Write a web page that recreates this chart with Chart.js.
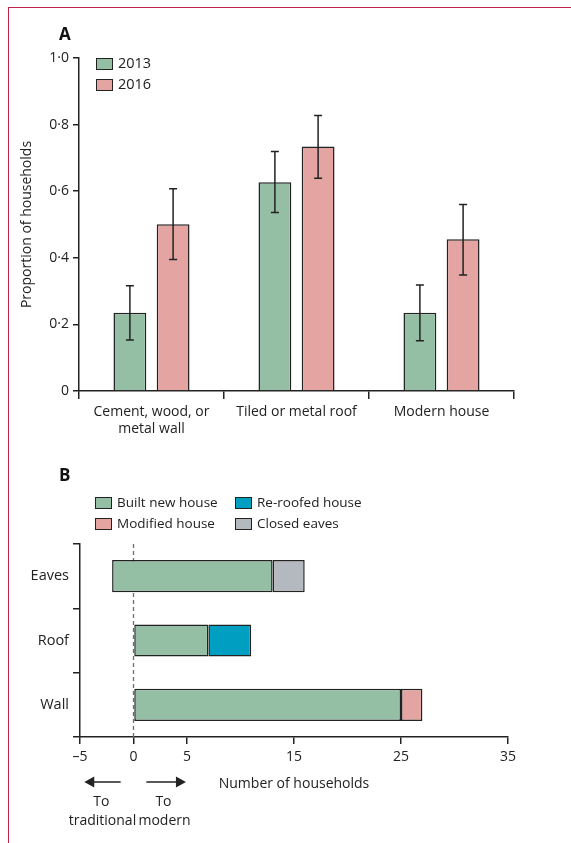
<!DOCTYPE html>
<html>
<head>
<meta charset="utf-8">
<script src="https://cdn.jsdelivr.net/npm/chart.js@4.4.1/dist/chart.umd.min.js"></script>
<style>
    body { margin: 0; background: #fff; font-family: "Open Sans", sans-serif; }
    #page { position: relative; width: 571px; height: 843px; overflow: hidden; }
    #frame { position: absolute; left: 8px; top: 7px; right: -2px; bottom: -2px;
             border-left: 1.5px solid #c0244a; border-top: 1.5px solid #c0244a; }
    .panel { position: absolute; left: 0; width: 571px; }
    .letter { position: absolute; font-weight: bold; font-size: 17px; color: #111; }
    .legend { position: absolute; color: #222; }
    .legend div { position: absolute; white-space: nowrap; line-height: 14px; }
    .legend span { position: absolute; left: 0; top: 1px; width: 15px; height: 10px; border: 1.5px solid #222; }
    .legend b { font-weight: normal; position: absolute; left: 22px; top: -1px; }
</style>
</head>
<body>
<div id="page">
    <div id="frame"></div>
    <div class="panel" style="top:0;height:440px"><canvas id="chart-a"></canvas></div>
    <div class="panel" style="top:440px;height:403px"><canvas id="chart-b"></canvas></div>
    <div class="letter" style="left:59px;top:22px">A</div>
    <div class="letter" style="left:59px;top:463px">B</div>
    <div class="legend" id="legend-a" style="left:96px;top:57px;font-size:14.5px"></div>
    <div class="legend" id="legend-b" style="left:95px;top:496px;font-size:13.5px"></div>
</div>
<script>
// panel A
const houseCategories = [["Cement, wood, or", "metal wall"], "Tiled or metal roof", "Modern house"];
const years = ["2013", "2016"];
const proportion2013 = [0.235, 0.627, 0.235];
const lower2013 = [0.153, 0.536, 0.151];
const upper2013 = [0.316, 0.719, 0.318];
const proportion2016 = [0.501, 0.734, 0.456];
const lower2016 = [0.395, 0.639, 0.348];
const upper2016 = [0.607, 0.827, 0.560];
const proportionTicks = [0, 0.2, 0.4, 0.6, 0.8, 1.0];

// panel B
const changeCategories = ["Eaves", "Roof", "Wall"];
const builtNewHouse = [[-2, 13], [0, 7], [0, 25]];
const reroofedHouse = [null, [7, 11], null];
const modifiedHouse = [null, null, [25, 27]];
const closedEaves = [[13, 16], null, null];
const householdTicks = [-5, 0, 5, 15, 25, 35];

const GREEN = "#94bfa5";
const PINK = "#e3a4a2";
const BLUE = "#009fc2";
const GREY = "#b3b9bf";
const INK = "#222";
const FONT = "'Open Sans', sans-serif";

Chart.defaults.font.family = FONT;
Chart.defaults.color = INK;
Chart.defaults.animation = false;

/* error bars for panel A */
const errorBars = {
    id: "errorBars",
    afterDatasetsDraw(chart) {
        const ctx = chart.ctx;
        const y = chart.scales.y;
        ctx.save();
        ctx.strokeStyle = INK;
        ctx.lineWidth = 1.5;
        chart.data.datasets.forEach((ds, i) => {
            const meta = chart.getDatasetMeta(i);
            meta.data.forEach((bar, j) => {
                const top = y.getPixelForValue(ds.upper[j]);
                const bottom = y.getPixelForValue(ds.lower[j]);
                ctx.beginPath();
                ctx.moveTo(bar.x, top);
                ctx.lineTo(bar.x, bottom);
                ctx.moveTo(bar.x - 4, top);
                ctx.lineTo(bar.x + 4, top);
                ctx.moveTo(bar.x - 4, bottom);
                ctx.lineTo(bar.x + 4, bottom);
                ctx.stroke();
            });
        });
        ctx.restore();
    }
};

/* zero line and the direction arrows for panel B */
const zeroLine = {
    id: "zeroLine",
    beforeDatasetsDraw(chart) {
        const ctx = chart.ctx;
        const area = chart.chartArea;
        const x0 = chart.scales.x.getPixelForValue(0);
        ctx.save();
        ctx.strokeStyle = "#5b7384";
        ctx.lineWidth = 1.3;
        ctx.setLineDash([4, 3]);
        ctx.beginPath();
        ctx.moveTo(x0, area.top);
        ctx.lineTo(x0, area.bottom);
        ctx.stroke();
        ctx.restore();
    },
    afterDraw(chart) {
        const ctx = chart.ctx;
        const x = chart.scales.x;
        const ay = chart.chartArea.bottom + 45;
        const arrow = (from, to) => {
            const x1 = x.getPixelForValue(from);
            const x2 = x.getPixelForValue(to);
            const dir = Math.sign(x2 - x1);
            ctx.beginPath();
            ctx.moveTo(x1, ay);
            ctx.lineTo(x2 - dir * 8, ay);
            ctx.stroke();
            ctx.beginPath();
            ctx.moveTo(x2, ay);
            ctx.lineTo(x2 - dir * 10, ay - 5.5);
            ctx.lineTo(x2 - dir * 10, ay + 5.5);
            ctx.closePath();
            ctx.fill();
        };
        ctx.save();
        ctx.strokeStyle = INK;
        ctx.fillStyle = INK;
        ctx.lineWidth = 1.5;
        arrow(-1.2, -4.6);
        arrow(1.2, 4.9);
        ctx.font = "14px " + FONT;
        ctx.textAlign = "center";
        ctx.textBaseline = "middle";
        ctx.fillText("To", x.getPixelForValue(-3.0), ay + 20);
        ctx.fillText("traditional", x.getPixelForValue(-2.9), ay + 39);
        ctx.fillText("To", x.getPixelForValue(2.8), ay + 20);
        ctx.fillText("modern", x.getPixelForValue(2.9), ay + 39);
        ctx.restore();
    }
};

const axisLine = { display: true, color: INK, width: 1.5 };
const tickOnly = { drawOnChartArea: false, drawTicks: true, color: INK, lineWidth: 1.5 };

const chartA = new Chart(document.getElementById("chart-a"), {
    type: "bar",
    data: {
        labels: houseCategories,
        datasets: [
            { label: years[0], data: proportion2013, lower: lower2013, upper: upper2013, backgroundColor: GREEN },
            { label: years[1], data: proportion2016, lower: lower2016, upper: upper2016, backgroundColor: PINK }
        ]
    },
    options: {
        responsive: true,
        maintainAspectRatio: false,
        layout: { padding: { left: 0, right: 57, top: 58, bottom: 0 } },
        datasets: { bar: { borderColor: INK, borderWidth: 1.5, categoryPercentage: 0.596, barPercentage: 0.76 } },
        plugins: { legend: { display: false }, tooltip: { enabled: false } },
        scales: {
            x: {
                border: axisLine,
                grid: Object.assign({ offset: true, tickLength: 8 }, tickOnly),
                ticks: { font: { size: 14 }, padding: 5, maxRotation: 0, autoSkip: false },
                afterFit(scale) { scale.height = 49; }
            },
            y: {
                min: 0,
                max: 1,
                border: axisLine,
                grid: Object.assign({ tickLength: 6 }, tickOnly),
                afterBuildTicks(scale) { scale.ticks = proportionTicks.map((v) => ({ value: v })); },
                ticks: {
                    font: { size: 14 },
                    padding: 4,
                    callback: (v) => v === 0 ? "0" : v.toFixed(1).replace(".", "\u00b7")
                },
                title: { display: true, text: "Proportion of households", font: { size: 14 }, padding: { top: 19 } },
                afterFit(scale) { scale.width = 79; }
            }
        }
    },
    plugins: [errorBars]
});

const chartB = new Chart(document.getElementById("chart-b"), {
    type: "bar",
    data: {
        labels: changeCategories,
        datasets: [
            { label: "Built new house", data: builtNewHouse, backgroundColor: GREEN },
            { label: "Re-roofed house", data: reroofedHouse, backgroundColor: BLUE },
            { label: "Modified house", data: modifiedHouse, backgroundColor: PINK },
            { label: "Closed eaves", data: closedEaves, backgroundColor: GREY }
        ]
    },
    options: {
        indexAxis: "y",
        responsive: true,
        maintainAspectRatio: false,
        layout: { padding: { left: 0, right: 63, top: 104, bottom: 47 } },
        datasets: { bar: { borderColor: INK, borderWidth: 1.5, borderSkipped: false, grouped: false, categoryPercentage: 1, barPercentage: 0.5 } },
        plugins: { legend: { display: false }, tooltip: { enabled: false } },
        scales: {
            x: {
                min: -5,
                max: 35,
                border: axisLine,
                grid: Object.assign({ tickLength: 7 }, tickOnly),
                afterBuildTicks(scale) { scale.ticks = householdTicks.map((v) => ({ value: v })); },
                ticks: {
                    font: { size: 14 },
                    padding: 5,
                    callback: (v) => v < 0 ? "\u2013" + Math.abs(v) : String(v)
                },
                title: { display: true, text: "Number of households", font: { size: 14 }, padding: { top: 8 } },
                afterFit(scale) { scale.height = 59; }
            },
            y: {
                border: axisLine,
                grid: Object.assign({ offset: true, tickLength: 7 }, tickOnly),
                ticks: { font: { size: 14.5 }, padding: 4 },
                afterFit(scale) { scale.width = 80; }
            }
        }
    },
    plugins: [zeroLine]
});

/* html legends built from the datasets; order gives the reading order in the grid */
function buildLegend(el, chart, order, perColumn, colWidth) {
    order.forEach((idx, k) => {
        const ds = chart.data.datasets[idx];
        const item = document.createElement("div");
        item.style.left = (Math.floor(k / perColumn) * colWidth) + "px";
        item.style.top = ((k % perColumn) * 21) + "px";
        item.innerHTML = `<span style="background:${ds.backgroundColor}"></span><b>${ds.label}</b>`;
        el.appendChild(item);
    });
}

buildLegend(document.getElementById("legend-a"), chartA, [0, 1], 2, 0);
buildLegend(document.getElementById("legend-b"), chartB, [0, 2, 1, 3], 2, 140);
</script>
</body>
</html>
